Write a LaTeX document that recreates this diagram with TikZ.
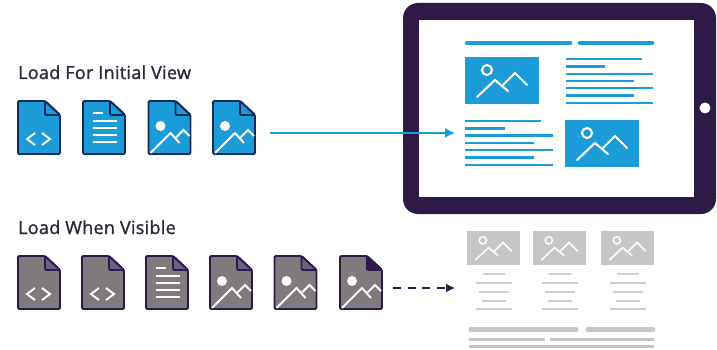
\documentclass[tikz,border=0pt]{standalone}
\usepackage{fontspec}
\setmainfont{Open Sans}
\newfontfamily\headingfont[FakeBold=1.3,LetterSpace=1.6]{Open Sans}
\usetikzlibrary{arrows.meta}
\definecolor{tabletpurple}{HTML}{2D1A47}
\definecolor{iconblue}{HTML}{1B9CD8}
\definecolor{iconnavy}{HTML}{14285A}
\definecolor{icongray}{HTML}{7F7B7D}
\definecolor{foldgray}{HTML}{6B6080}
\definecolor{wire}{HTML}{C6C6C6}
\definecolor{wirethin}{HTML}{CFCFCF}
\definecolor{labeldark}{HTML}{2A2A38}
\tikzset{
  filebody/.style={line width=1.9pt,line join=round,rounded corners=1.2pt},
  glyph/.style={white,line width=1.9pt},
  heading/.style={anchor=base west,inner sep=0pt,text=labeldark,font=\headingfont\fontsize{18}{20}\selectfont},
  flowline/.style={iconblue,line width=1.5pt},
  bluebar/.style={iconblue,line width=2.3pt},
  bluetop/.style={iconblue,line width=4.5pt,line cap=round},
  graybar/.style={wire,line width=5pt,line cap=round},
  graylow/.style={wire,line width=3pt},
  graytext/.style={wirethin,line width=1.5pt},
}
% x, y (top left), body fill, fold fill, outline, glyph macro
\newcommand\fileicon[6]{%
  \begin{scope}[shift={(#1,#2)}]
    \draw[filebody,fill=#3,draw=#5] (0,0) -- (27,0) -- (42,14) -- (42,53) -- (0,53) -- cycle;
    \draw[filebody,fill=#4,draw=#5] (27,0) -- (42,14) -- (27,14) -- cycle;
    #6
  \end{scope}}
\newcommand\codeglyph{%
  \draw[glyph] (17,32) -- (9,38) -- (17,44);
  \draw[glyph] (24,32) -- (32,38) -- (24,44);}
\newcommand\docglyph{%
  \draw[glyph] (10,12) -- (20,12);
  \draw[glyph] (10,20) -- (34,20);
  \draw[glyph] (10,27) -- (34,27);
  \draw[glyph] (10,34) -- (34,34);
  \draw[glyph] (10,41) -- (34,41);}
\newcommand\picglyph{%
  \fill[white] (12,25) circle (5);
  \draw[glyph] (2,52) -- (22,32) -- (31,42);
  \draw[glyph] (27,37) -- (35,29) -- (41,35);}
% x, y, scale, colour: framed picture placeholder (74 x 47 at scale 1)
\newcommand\screenpic[4]{%
  \begin{scope}[shift={(#1,#2)},scale=#3]
    \fill[#4] (0,0) rectangle (74,47);
    \draw[white,line width=#3*2.1pt] (22,13) circle (5);
    \draw[white,line width=#3*2.1pt,line cap=round] (12,40) -- (30,23) -- (43,34);
    \draw[white,line width=#3*2.1pt,line cap=round] (38,28) -- (50,16) -- (62,28);
  \end{scope}}
% centre x: column of grey text lines
\newcommand\graycolumn[1]{%
  \draw[graytext] (#1-11,274) -- (#1+11,274);
  \draw[graytext] (#1-18,283) -- (#1+18,283);
  \draw[graytext] (#1-15,292) -- (#1+15,292);
  \draw[graytext] (#1-12,301) -- (#1+12,301);
  \draw[graytext] (#1-18,309) -- (#1+18,309);}
\begin{document}
\begin{tikzpicture}[x=1pt,y=-1pt]
\useasboundingbox (0,0) rectangle (717,350);
\fill[white] (0,0) rectangle (717,350);
% labels
\node[heading] (initiallabel) at (18,79) {Load For Initial View};
\node[heading] (visiblelabel) at (18,234) {Load When Visible};
% blue files
\fileicon{18}{101}{iconblue}{iconblue}{iconnavy}{\codeglyph}
\fileicon{83}{101}{iconblue}{iconblue}{iconnavy}{\docglyph}
\fileicon{148.5}{101}{iconblue}{iconblue}{iconnavy}{\picglyph}
\fileicon{213}{101}{iconblue}{iconblue}{iconnavy}{\picglyph}
% grey files
\fileicon{18}{256}{icongray}{foldgray}{tabletpurple}{\codeglyph}
\fileicon{82}{256}{icongray}{foldgray}{tabletpurple}{\codeglyph}
\fileicon{146}{256}{icongray}{foldgray}{tabletpurple}{\docglyph}
\fileicon{210}{256}{icongray}{foldgray}{tabletpurple}{\picglyph}
\fileicon{274.5}{256}{icongray}{foldgray}{tabletpurple}{\picglyph}
\fileicon{340}{256}{icongray}{tabletpurple}{tabletpurple}{\picglyph}
% tablet
\fill[tabletpurple,rounded corners=15pt] (403,3) rectangle (716,214);
\fill[white] (419,20) rectangle (694,197);
\fill[white] (705,108) circle (5.5);
% tablet content
\draw[bluetop] (467,43) -- (570,43);
\draw[bluetop] (580,43) -- (652,43);
\screenpic{465}{57}{1}{iconblue}
\screenpic{565}{120}{1}{iconblue}
\draw[bluebar] (566,59) -- (642,59);
\draw[bluebar] (566,66.5) -- (605,66.5);
\draw[bluebar] (566,74) -- (653,74);
\draw[bluebar] (566,81) -- (634,81);
\draw[bluebar] (566,88) -- (653,88);
\draw[bluebar] (566,95.5) -- (634,95.5);
\draw[bluebar] (566,103) -- (653,103);
\draw[bluebar] (465,121) -- (541,121);
\draw[bluebar] (465,128.5) -- (505,128.5);
\draw[bluebar] (465,135.5) -- (553,135.5);
\draw[bluebar] (465,143) -- (534,143);
\draw[bluebar] (465,150) -- (553,150);
\draw[bluebar] (465,157.5) -- (534,157.5);
\draw[bluebar] (465,165) -- (553,165);
% grey page
\screenpic{467}{231}{0.72}{wire}
\screenpic{533}{231}{0.72}{wire}
\screenpic{601}{231}{0.72}{wire}
\graycolumn{494}
\graycolumn{560}
\graycolumn{628}
\draw[graybar] (471,329.5) -- (576,329.5);
\draw[graybar] (588,329.5) -- (653,329.5);
\draw[graylow] (469,339) -- (545,339);
\draw[graylow] (550,339) -- (654,339);
\draw[graylow] (469,346) -- (654,346);
% connectors
\coordinate (flowstart) at (270,133);
\coordinate (flowend) at (455,133);
\coordinate (lazystart) at (393,288);
\coordinate (lazyend) at (455,288);
\draw[flowline,-{Latex[length=10pt,width=10pt]}] (flowstart) -- (flowend);
\draw[tabletpurple,line width=1.4pt,dash pattern=on 8pt off 6.5pt,-{Latex[length=9pt,width=9pt]}] (lazystart) -- (lazyend);
\end{tikzpicture}
\end{document}
